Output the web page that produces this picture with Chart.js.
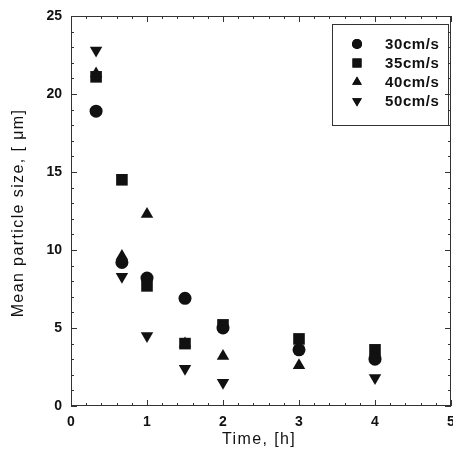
<!DOCTYPE html>
<html><head><meta charset="utf-8">
<script src="https://cdn.jsdelivr.net/npm/chart.js@4.4.0/dist/chart.umd.min.js"></script>
<style>html,body{margin:0;padding:0;background:#fff}#w{width:453px;height:468px}</style>
</head><body><div id="w"><canvas id="c"></canvas></div>
<script>
const times = [0.33, 0.67, 1, 1.5, 2, 3, 4];
const seriesLabels = ['30cm/s', '35cm/s', '40cm/s', '50cm/s'];
const v30 = [18.9, 9.2, 8.2, 6.9, 5.0, 3.6, 3.0];
const v35 = [21.1, 14.5, 7.7, 4.0, 5.2, 4.3, 3.6];
const v40 = [21.3, 9.6, 12.3, 4.0, 3.2, 2.6, 3.4];
const v50 = [22.8, 8.3, 4.5, 2.4, 1.5, null, 1.8];
const xTicks = [0, 1, 2, 3, 4, 5];
const yTicks = [0, 5, 10, 15, 20, 25];
const xTitle = 'Time, [h]';
const yTitle = 'Mean particle size, [ μm]';

const styles = [
  {pointStyle:'circle', radius:6.5, rotation:0},
  {pointStyle:'rect', radius:8.2, rotation:0},
  {pointStyle:'triangle', radius:7.2, rotation:0},
  {pointStyle:'triangle', radius:7.2, rotation:180}
];
const values = [v30, v35, v40, v50];
const datasets = values.map((vals, i) => ({
  label: seriesLabels[i],
  data: times.map((t, k) => vals[k] == null ? null : {x: t, y: vals[k]}).filter(p => p),
  showLine: false,
  pointStyle: styles[i].pointStyle,
  pointRadius: styles[i].radius,
  pointRotation: styles[i].rotation,
  backgroundColor: '#111',
  borderColor: '#111',
  borderWidth: 0
}));

const FONT = '"Liberation Sans", Arial, sans-serif';

const frame = {
  id: 'frame',
  afterDraw(chart) {
    const ctx = chart.ctx, a = chart.chartArea;
    const xs = chart.scales.x, ys = chart.scales.y;
    ctx.save();
    ctx.strokeStyle = '#333';
    ctx.lineWidth = 1;
    ctx.strokeRect(a.left + 0.5, a.top + 0.5, a.right - a.left - 1, a.bottom - a.top - 1);
    ctx.beginPath();
    for (let k = 0; k <= 25; k++) {
      const v = k * 0.2;
      const px = Math.round(xs.getPixelForValue(v)) + 0.5;
      const len = k % 5 === 0 ? 6 : 3;
      ctx.moveTo(px, a.bottom); ctx.lineTo(px, a.bottom - len);
      ctx.moveTo(px, a.top); ctx.lineTo(px, a.top + len);
    }
    for (let v = 0; v <= 25; v += 1) {
      const py = Math.round(ys.getPixelForValue(v)) + 0.5;
      const len = v % 5 === 0 ? 6 : 3;
      ctx.moveTo(a.left, py); ctx.lineTo(a.left + len, py);
      ctx.moveTo(a.right, py); ctx.lineTo(a.right - len, py);
    }
    ctx.stroke();
    // axis titles
    ctx.fillStyle = '#111';
    ctx.textAlign = 'center';
    ctx.textBaseline = 'middle';
    ctx.font = '16px ' + FONT;
    ctx.letterSpacing = '1.4px';
    ctx.fillText(xTitle, 259, 440);
    ctx.save();
    ctx.translate(19, 213);
    ctx.rotate(-Math.PI / 2);
    ctx.fillText(yTitle, 0, 0);
    ctx.restore();
    // legend
    const lx = 332, ly = 24, lw = 116, lh = 101;
    ctx.strokeRect(lx + 0.5, ly + 0.5, lw, lh);
    ctx.font = 'bold 15px ' + FONT;
    ctx.letterSpacing = '0.6px';
    ctx.textAlign = 'left';
    chart.data.datasets.forEach((ds, i) => {
      const cy = ly + 20 + i * 19;
      ctx.beginPath();
      Chart.helpers.drawPoint(ctx, {pointStyle: ds.pointStyle, radius: ds.pointRadius * 0.78, rotation: ds.pointRotation, borderWidth: 0}, 357, cy);
      ctx.fillStyle = '#111';
      ctx.fill();
      ctx.fillText(ds.label, 385, cy + 1);
    });
    ctx.restore();
  }
};

new Chart(document.getElementById('c'), {
  type: 'scatter',
  data: {datasets},
  options: {
    responsive: true, maintainAspectRatio: false, animation: false,
    layout: {autoPadding: false, padding: {top: 16, right: 2, left: 0, bottom: 0}},
    plugins: {legend: {display: false}, tooltip: {enabled: false}},
    scales: {
      x: {
        min: 0, max: 5,
        afterBuildTicks: s => { s.ticks = xTicks.map(v => ({value: v})); },
        afterFit: s => { s.height = 62; s.paddingLeft = 0; s.paddingRight = 0; },
        grid: {display: false, drawTicks: false},
        border: {display: false},
        ticks: {color: '#111', font: {family: FONT, size: 14, weight: 'bold'}, padding: 8, maxRotation: 0}
      },
      y: {
        min: 0, max: 25,
        afterBuildTicks: s => { s.ticks = yTicks.map(v => ({value: v})); },
        afterFit: s => { s.width = 71; s.paddingTop = 0; s.paddingBottom = 0; },
        grid: {display: false, drawTicks: false},
        border: {display: false},
        ticks: {color: '#111', font: {family: FONT, size: 14, weight: 'bold'}, padding: 9}
      }
    }
  },
  plugins: [frame]
});
</script>
</body></html>
